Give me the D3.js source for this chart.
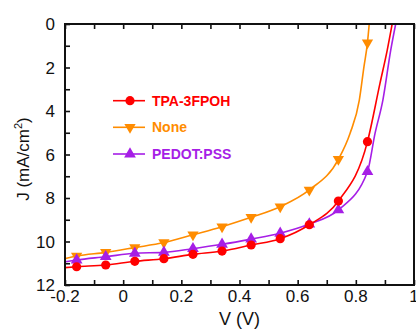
<!DOCTYPE html>
<html><head><meta charset="utf-8">
<script src="https://cdn.jsdelivr.net/npm/d3@7"></script>
<style>body{margin:0;background:#fff}svg{display:block}</style>
</head><body>
<script>
// Data
const seriesNames = ["TPA-3FPOH", "None", "PEDOT:PSS"];
const markerV = [-0.16, -0.06, 0.04, 0.14, 0.24, 0.34, 0.44, 0.54, 0.64, 0.74, 0.84];
const tpaV = [-0.2, -0.16, -0.06, 0.04, 0.14, 0.24, 0.34, 0.44, 0.54, 0.64, 0.74, 0.84, 0.883, 0.908, 0.925];
const tpaJ = [11.2, 11.16, 11.08, 10.91, 10.79, 10.59, 10.44, 10.16, 9.87, 9.23, 8.14, 5.41, 2.73, 1.2, 0];
const noneV = [-0.2, -0.16, -0.06, 0.04, 0.14, 0.24, 0.34, 0.44, 0.54, 0.64, 0.74, 0.78, 0.812, 0.828, 0.84, 0.846];
const noneJ = [10.79, 10.67, 10.5, 10.28, 10.05, 9.69, 9.32, 8.89, 8.4, 7.63, 6.22, 5.03, 3.5, 1.96, 0.86, 0];
const pedotV = [-0.2, -0.16, -0.06, 0.04, 0.14, 0.24, 0.34, 0.44, 0.54, 0.64, 0.74, 0.84, 0.866, 0.893, 0.92, 0.937];
const pedotJ = [10.93, 10.85, 10.7, 10.54, 10.5, 10.33, 10.13, 9.89, 9.62, 9.2, 8.55, 6.79, 5.03, 3.5, 1.2, 0];
const xTicks = [-0.2, 0, 0.2, 0.4, 0.6, 0.8, 1];
const xTickLabels = ["-0.2", "0", "0.2", "0.4", "0.6", "0.8", "1"];
const yTicks = [0, 2, 4, 6, 8, 10, 12];

const W = 416, H = 331;
const L = 65, R = 414, T = 24, B = 285;
const colors = ["#ff0000", "#ff8c00", "#a61ee6"];
const symbols = ["circle", "down", "up"];

const svg = d3.select("body").append("svg").attr("width", W).attr("height", H);
const x = d3.scaleLinear().domain([-0.2, 1]).range([L, R]);
const y = d3.scaleLinear().domain([0, 12]).range([T, B]);

const series = [
  {name: seriesNames[0], v: tpaV, j: tpaJ},
  {name: seriesNames[1], v: noneV, j: noneJ},
  {name: seriesNames[2], v: pedotV, j: pedotJ}
];

svg.append("clipPath").attr("id", "clip").append("rect")
  .attr("x", L).attr("y", T).attr("width", R - L).attr("height", B - T);

const line = d3.line().x(d => x(d[0])).y(d => y(d[1])).curve(d3.curveMonotoneX);

function drawMarker(g, type, cx, cy, color) {
  if (type === "circle") {
    g.append("circle").attr("cx", cx).attr("cy", cy).attr("r", 4.6).attr("fill", color);
  } else if (type === "down") {
    g.append("path").attr("d", d3.symbol(d3.symbolTriangle, 55)()).attr("transform", `translate(${cx},${cy}) rotate(180)`).attr("fill", color);
  } else {
    g.append("path").attr("d", d3.symbol(d3.symbolTriangle, 60)()).attr("transform", `translate(${cx},${cy})`).attr("fill", color);
  }
}

const plot = svg.append("g").attr("clip-path", "url(#clip)");
[1, 2, 0].forEach(i => {
  const s = series[i];
  const pts = s.v.map((v, k) => [v, s.j[k]]);
  plot.append("path").datum(pts).attr("d", line).attr("fill", "none")
    .attr("stroke", colors[i]).attr("stroke-width", 1.6);
  const g = plot.append("g");
  pts.filter(p => markerV.some(m => Math.abs(m - p[0]) < 1e-9))
    .forEach(p => drawMarker(g, symbols[i], x(p[0]), y(p[1]), colors[i]));
});

// Axes
const font = "Liberation Sans, Arial, sans-serif";
const axB = svg.append("g").attr("transform", `translate(0,${B})`)
  .call(d3.axisBottom(x).tickValues(d3.range(-0.2, 1.001, 0.1)).tickSize(-5).tickFormat(""));
const axT = svg.append("g").attr("transform", `translate(0,${T})`)
  .call(d3.axisTop(x).tickValues(d3.range(-0.2, 1.001, 0.1)).tickSize(-5).tickFormat(""));
const axL = svg.append("g").attr("transform", `translate(${L},0)`)
  .call(d3.axisLeft(y).tickValues(d3.range(0, 12.001, 1)).tickSize(-5).tickFormat(""));
[axB, axT, axL].forEach(a => {
  a.select(".domain").remove();
  a.selectAll(".tick line").attr("stroke", "#111").attr("stroke-width", 1.6);
});
svg.append("rect").attr("x", L).attr("y", T).attr("width", R - L).attr("height", B - T)
  .attr("fill", "none").attr("stroke", "#111").attr("stroke-width", 2);

svg.append("g").selectAll("text").data(xTicks).join("text")
  .attr("x", d => x(d)).attr("y", 302).attr("text-anchor", "middle")
  .attr("font-family", font).attr("font-size", 17).attr("fill", "#111")
  .text((d, i) => xTickLabels[i]);
svg.append("g").selectAll("text").data(yTicks).join("text")
  .attr("x", 55).attr("y", d => y(d)).attr("dy", "0.36em").attr("text-anchor", "end")
  .attr("font-family", font).attr("font-size", 17).attr("fill", "#111")
  .text(d => d);

svg.append("text").attr("x", (L + R) / 2).attr("y", 325).attr("text-anchor", "middle")
  .attr("font-family", font).attr("font-size", 18).attr("fill", "#111").text("V (V)");
const yl = svg.append("text").attr("transform", `translate(29,159) rotate(-90)`)
  .attr("text-anchor", "middle").attr("font-family", font).attr("font-size", 17).attr("fill", "#111");
yl.append("tspan").text("J (mA/cm");
yl.append("tspan").attr("dy", -7).attr("font-size", 11).text("2");
yl.append("tspan").attr("dy", 7).text(")");

// Legend
const legY = [100.7, 127.3, 154];
series.forEach((s, i) => {
  const g = svg.append("g");
  g.append("line").attr("x1", 113).attr("x2", 145).attr("y1", legY[i]).attr("y2", legY[i])
    .attr("stroke", colors[i]).attr("stroke-width", 1.6);
  drawMarker(g, symbols[i], 130, legY[i], colors[i]);
  g.append("text").attr("x", 152).attr("y", legY[i]).attr("dy", "0.36em")
    .attr("font-family", font).attr("font-weight", "bold").attr("font-size", 14)
    .attr("fill", colors[i]).text(s.name);
});
</script>
</body></html>
